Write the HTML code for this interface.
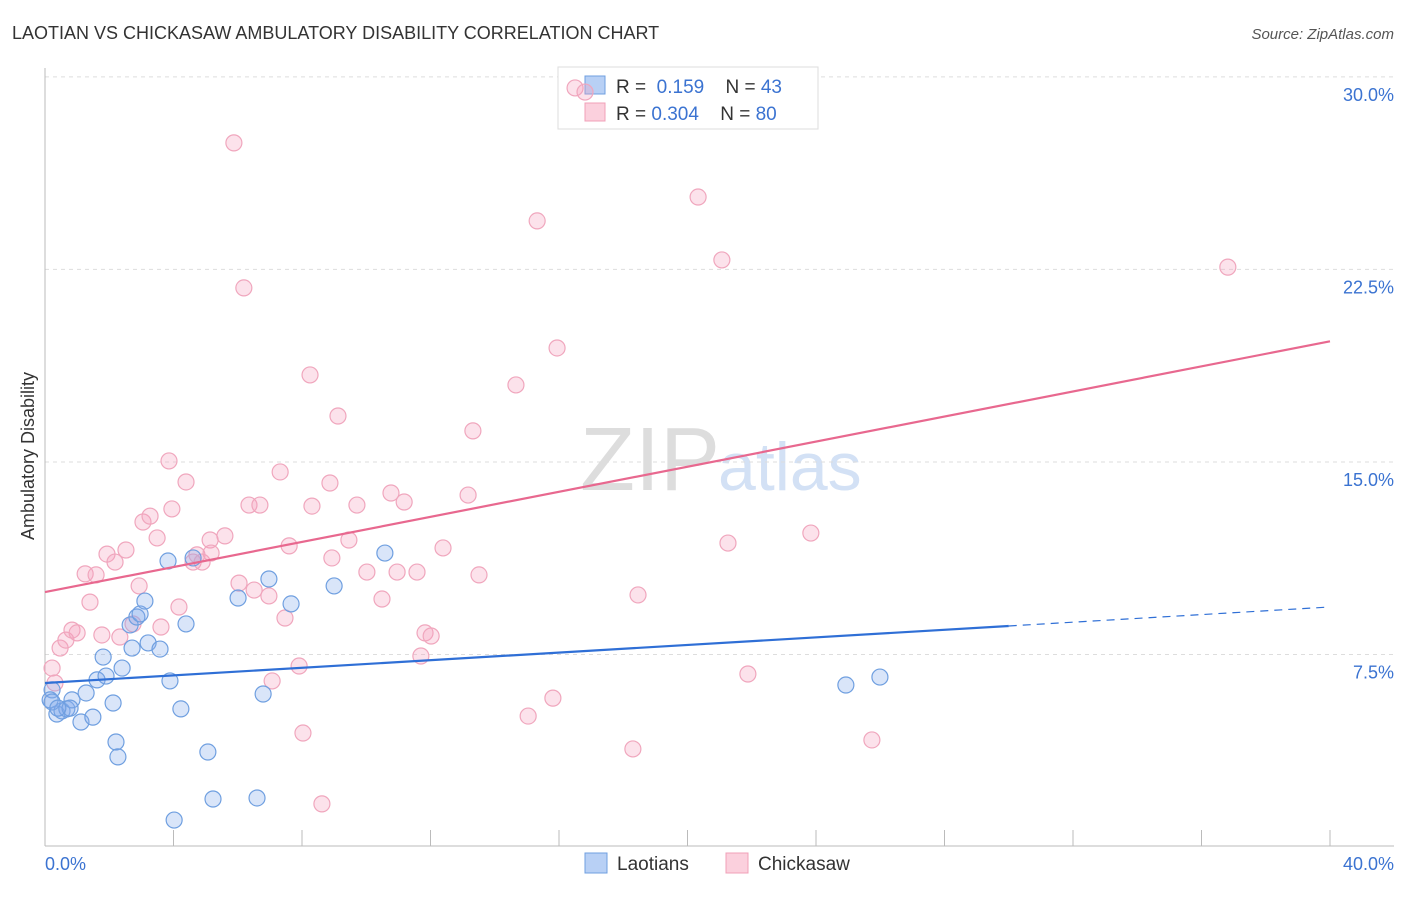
<!DOCTYPE html>
<html><head><meta charset="utf-8"><style>
body{margin:0;background:#fff;font-family:"Liberation Sans",sans-serif;}
svg text{font-family:"Liberation Sans",sans-serif;}
</style></head><body>
<svg width="1406" height="892" xmlns="http://www.w3.org/2000/svg">
<text x="12" y="39" font-size="18" fill="#333">LAOTIAN VS CHICKASAW AMBULATORY DISABILITY CORRELATION CHART</text>
<text x="1394" y="39" font-size="15" fill="#555" text-anchor="end" font-style="italic">Source: ZipAtlas.com</text>
<text x="720" y="490" font-size="90" fill="#ddd" text-anchor="end" font-family="Liberation Serif">ZIP</text>
<text x="718" y="490" font-size="68" fill="#d3e1f5">atlas</text>
<g id="grid"></g>
<g id="axes"></g>
<g>
<rect x="558" y="67" width="260" height="62" fill="#fff" stroke="#ddd"/>
<rect x="585" y="76" width="20" height="18" fill="#b8d0f5" stroke="#6f9fe0"/>
<rect x="585" y="103" width="20" height="18" fill="#fbd0dd" stroke="#f0a0b8"/>
<text x="616" y="93" font-size="19" fill="#333">R = <tspan fill="#3b73d1">&#160;0.159</tspan>   <tspan dx="16">N = </tspan><tspan fill="#3b73d1">43</tspan></text>
<text x="616" y="120" font-size="19" fill="#333">R = <tspan fill="#3b73d1">0.304</tspan>   <tspan dx="16">N = </tspan><tspan fill="#3b73d1">80</tspan></text>
</g>
<g id="pts"></g>
<g id="lines"></g>
<text transform="translate(34,456) rotate(-90)" font-size="18" fill="#333" text-anchor="middle">Ambulatory Disability</text>
<text x="45" y="870" font-size="18" fill="#3b73d1">0.0%</text>
<text x="1394" y="870" font-size="18" fill="#3b73d1" text-anchor="end">40.0%</text>
<g>
<rect x="585" y="853" width="22" height="20" fill="#b8d0f5" stroke="#6f9fe0"/>
<text x="617" y="870" font-size="19" fill="#333">Laotians</text>
<rect x="726" y="853" width="22" height="20" fill="#fbd0dd" stroke="#f0a0b8"/>
<text x="758" y="870" font-size="19" fill="#333">Chickasaw</text>
</g>
</svg>
<script>
const yTicks=[7.5,15,22.5,30];
const yTickLabels=["7.5%","15.0%","22.5%","30.0%"];
const xTicks=[0,4,8,12,16,20,24,28,32,36,40];
const laoX=[0.22,0.16,0.37,0.53,0.68,0.84,0.78,1.28,1.12,1.49,1.62,1.81,1.90,2.12,2.21,2.27,2.40,2.65,2.71,2.86,2.96,3.11,3.21,3.58,3.83,3.89,4.02,4.23,4.39,4.61,5.07,5.23,6.01,6.60,6.79,6.97,7.66,9.00,10.58,24.93,25.99,0.22,0.40];
const laoY=[6.12,5.73,5.18,5.30,5.38,5.73,5.41,6.00,4.87,5.06,6.51,7.40,6.66,5.61,4.09,3.51,6.97,8.65,7.75,8.96,9.08,9.58,7.95,7.71,11.14,6.47,1.05,5.38,8.69,11.26,3.70,1.87,9.70,1.91,5.96,10.44,9.47,10.17,11.45,6.31,6.62,5.65,5.41];
const chiX=[.22,.31,.47,.65,.84,1.00,1.25,1.40,1.59,1.77,1.93,2.18,2.33,2.52,2.74,2.93,3.05,3.27,3.49,3.61,3.86,3.95,4.17,4.39,4.61,4.73,4.89,5.14,5.17,5.60,5.88,6.04,6.19,6.35,6.51,6.69,6.97,7.07,7.32,7.47,7.60,7.91,8.03,8.25,8.31,8.62,8.87,8.93,9.12,9.46,9.71,10.02,10.49,10.77,10.96,11.18,11.58,11.83,11.70,12.02,12.39,13.17,13.32,13.51,14.66,15.04,15.32,15.81,15.94,16.50,16.81,18.30,18.46,20.33,21.07,21.26,21.88,23.84,25.74,36.82];
const chiY=[6.97,6.39,7.75,8.06,8.45,8.34,10.64,9.54,10.60,8.26,11.41,11.10,8.18,11.57,8.69,10.17,12.66,12.89,12.04,8.57,15.04,13.17,9.35,14.22,11.10,11.38,11.10,11.96,11.45,12.12,27.43,10.28,21.78,13.32,10.01,13.32,9.78,6.47,14.61,8.92,11.73,7.05,4.44,18.39,13.28,1.68,14.18,11.26,16.79,11.96,13.32,10.71,9.66,13.79,10.71,13.44,10.71,8.34,7.44,8.22,11.65,13.71,16.21,10.60,18.00,5.10,24.39,5.80,19.44,29.57,29.41,3.82,9.82,25.32,22.87,11.84,6.74,12.23,4.17,22.59];
const laoTrend=[6.39,9.35];
const chiTrend=[9.93,19.7];
const NS="http://www.w3.org/2000/svg";
const X=v=>45+v/40*1285;
const Y=v=>847-v*25.67;
function mk(t,a,p){const e=document.createElementNS(NS,t);for(const k in a)e.setAttribute(k,a[k]);document.getElementById(p).appendChild(e);return e;}
yTicks.forEach((t,i)=>{
 const g=mk('line',{x1:45,x2:1394,y1:Y(t),y2:Y(t),stroke:'#ddd','stroke-dasharray':'4,4'},'grid');
 
 
 const l=mk('text',{x:1394,y:Y(t)+24,'font-size':18,fill:'#3b73d1','text-anchor':'end'},'grid');
 l.textContent=yTickLabels[i];
 
 
});
const ya=mk('line',{x1:45,x2:45,y1:68,y2:846,stroke:'#bbb'},'axes');


const xa=mk('line',{x1:45,x2:1394,y1:846,y2:846,stroke:'#bbb'},'axes');


xTicks.forEach(t=>{
 const e=mk('line',{x1:X(t),x2:X(t),y1:830,y2:846,stroke:'#bbb'},'axes');
 
 
});
chiX.forEach((v,i)=>{
 const c=mk('circle',{cx:X(v),cy:Y(chiY[i]),r:8,fill:'rgba(244,160,190,0.3)',stroke:'#f0a6bd','stroke-width':1.2},'pts');
 
 
});
laoX.forEach((v,i)=>{
 const c=mk('circle',{cx:X(v),cy:Y(laoY[i]),r:8,fill:'rgba(130,170,235,0.3)',stroke:'#6f9fe0','stroke-width':1.2},'pts');
 
 
});
const cl=mk('line',{x1:X(0),y1:Y(chiTrend[0]),x2:X(40),y2:Y(chiTrend[1]),stroke:'#e8688f','stroke-width':2.2},'lines');


const ly=v=>laoTrend[0]+(laoTrend[1]-laoTrend[0])*v/40;
const ll=mk('line',{x1:X(0),y1:Y(ly(0)),x2:X(30),y2:Y(ly(30)),stroke:'#2f6fd6','stroke-width':2.2},'lines');


const ld=mk('line',{x1:X(30),y1:Y(ly(30)),x2:X(40),y2:Y(ly(40)),stroke:'#2f6fd6','stroke-width':1.2,'stroke-dasharray':'8,6'},'lines');


</script>
</body></html>
